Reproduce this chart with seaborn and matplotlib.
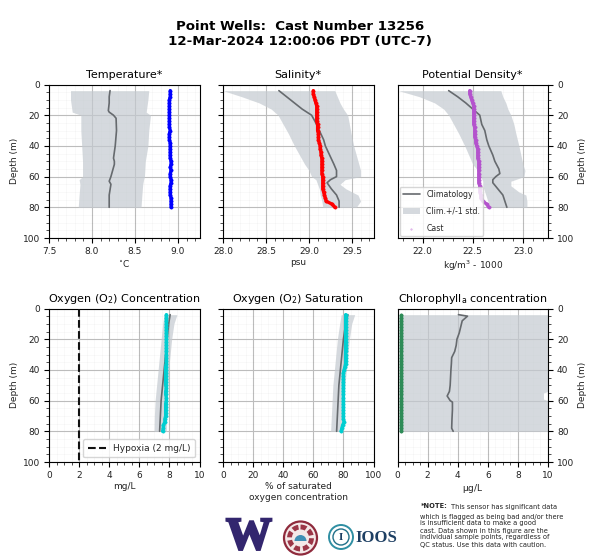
import matplotlib
matplotlib.use('Agg')
import matplotlib.pyplot as plt
import matplotlib.patheffects as pe
from matplotlib.patches import Circle, Wedge
from matplotlib.ticker import MultipleLocator
import seaborn as sns

sns.set_style('ticks')
plt.rcParams['font.family'] = ['DejaVu Sans']
plt.rcParams['mathtext.default'] = 'regular'

# depths for the cast markers, sampled every 2 m
cast_depth = [4, 6, 8, 10, 12, 14, 16, 18, 20, 22, 24, 26, 28, 30, 32, 34, 36, 38, 40, 42,
              44, 46, 48, 50, 52, 54, 56, 58, 60, 62, 64, 66, 68, 70, 72, 74, 76, 78, 80]

# temperature
temp_depth = [4, 8, 12, 17, 18, 20, 22, 30, 40, 48, 50, 52, 56, 60, 63, 65, 72, 80]
temp_clim = [8.21, 8.20, 8.20, 8.19, 8.20, 8.25, 8.28, 8.285, 8.27, 8.25, 8.26, 8.26, 8.24, 8.22, 8.20, 8.22, 8.20, 8.20]
temp_std_depth = [4, 10, 18, 20, 30, 40, 50, 60, 62, 65, 72, 80]
temp_low = [7.75, 7.75, 7.77, 7.87, 7.87, 7.88, 7.89, 7.89, 7.85, 7.86, 7.85, 7.84]
temp_high = [8.66, 8.65, 8.63, 8.68, 8.66, 8.65, 8.62, 8.61, 8.60, 8.59, 8.58, 8.57]
temp_cast = [8.91, 8.91, 8.91, 8.90, 8.90, 8.90, 8.90, 8.90, 8.90, 8.90, 8.90, 8.90, 8.90, 8.91, 8.90, 8.90,
             8.90, 8.91, 8.91, 8.91, 8.91, 8.91, 8.91, 8.92, 8.92, 8.91, 8.92, 8.91, 8.91, 8.92, 8.92, 8.91,
             8.91, 8.91, 8.91, 8.92, 8.92, 8.92, 8.92]

# salinity
sal_depth = [4, 8, 12, 16, 20, 24, 30, 36, 40, 46, 52, 56, 60, 62, 64, 68, 72, 76, 80]
sal_clim = [28.65, 28.74, 28.83, 28.92, 29.03, 29.07, 29.12, 29.17, 29.19, 29.24, 29.29, 29.32, 29.32, 29.25, 29.21, 29.26, 29.32, 29.35, 29.35]
sal_std_depth = [4, 8, 12, 16, 20, 26, 32, 40, 46, 52, 56, 60, 62, 65, 68, 72, 76, 80]
sal_low = [28.0, 28.22, 28.42, 28.56, 28.64, 28.70, 28.76, 28.83, 28.89, 28.95, 29.0, 29.03, 29.08, 29.10, 29.12, 29.13, 29.15, 29.16]
sal_high = [29.30, 29.33, 29.36, 29.40, 29.45, 29.47, 29.49, 29.52, 29.55, 29.58, 29.60, 29.60, 29.42, 29.36, 29.43, 29.57, 29.60, 29.55]
sal_cast = [29.05, 29.05, 29.06, 29.07, 29.08, 29.09, 29.09, 29.09, 29.09, 29.09, 29.09, 29.10, 29.10, 29.10, 29.11, 29.11,
            29.11, 29.12, 29.13, 29.13, 29.14, 29.14, 29.15, 29.15, 29.15, 29.15, 29.15, 29.15, 29.16, 29.16, 29.16, 29.16,
            29.16, 29.17, 29.18, 29.19, 29.20, 29.27, 29.30]

# potential density
dens_depth = [4, 8, 12, 16, 20, 26, 30, 36, 40, 46, 50, 55, 58, 60, 62, 64, 68, 72, 76, 80]
dens_clim = [22.26, 22.35, 22.43, 22.50, 22.57, 22.59, 22.62, 22.64, 22.66, 22.70, 22.72, 22.76, 22.77, 22.73, 22.70, 22.70, 22.75, 22.80, 22.82, 22.84]
dens_std_depth = [4, 8, 12, 16, 20, 26, 32, 40, 46, 52, 56, 60, 63, 66, 70, 72, 76, 80]
dens_low = [21.76, 21.97, 22.12, 22.21, 22.26, 22.31, 22.36, 22.42, 22.46, 22.5, 22.55, 22.58, 22.6, 22.6, 22.62, 22.63, 22.65, 22.68]
dens_high = [22.78, 22.80, 22.83, 22.85, 22.88, 22.91, 22.93, 22.96, 22.98, 23.0, 23.02, 23.01, 22.88, 22.88, 22.96, 23.03, 23.04, 23.04]
dens_cast = [22.47, 22.47, 22.48, 22.49, 22.50, 22.51, 22.51, 22.51, 22.51, 22.51, 22.51, 22.51, 22.52, 22.52, 22.52, 22.52,
             22.53, 22.53, 22.54, 22.55, 22.55, 22.55, 22.55, 22.56, 22.56, 22.56, 22.56, 22.56, 22.56, 22.56, 22.56, 22.57,
             22.57, 22.57, 22.58, 22.58, 22.60, 22.64, 22.66]

# oxygen concentration
oxy_depth = [4, 10, 20, 30, 40, 50, 60, 70, 80]
oxy_clim = [8.05, 7.95, 7.85, 7.75, 7.65, 7.55, 7.45, 7.40, 7.35]
oxy_low = [7.65, 7.55, 7.45, 7.35, 7.25, 7.15, 7.05, 7.0, 6.98]
oxy_high = [8.5, 8.3, 8.15, 8.05, 7.95, 7.9, 7.85, 7.8, 7.8]
oxy_cast = [7.8, 7.8, 7.8, 7.8, 7.8, 7.8, 7.8, 7.8, 7.8, 7.8, 7.8, 7.8, 7.8, 7.8, 7.8, 7.8,
            7.8, 7.75, 7.75, 7.75, 7.75, 7.75, 7.75, 7.75, 7.8, 7.75, 7.75, 7.8, 7.8, 7.75, 7.75, 7.75,
            7.75, 7.75, 7.7, 7.7, 7.6, 7.6, 7.55]

# oxygen saturation
sat_clim = [83, 81.5, 80, 79, 78, 77, 76.5, 76, 75.5]
sat_low = [78.5, 77.5, 76, 75, 74, 73, 72.5, 72, 71.5]
sat_high = [87.5, 85.5, 84, 83, 82, 81, 80.5, 80, 79.5]
sat_cast = [81.5, 81.5, 81.5, 81.5, 81.5, 81.5, 81.5, 81.5, 81.5, 81.5, 81.5, 81.5, 81.5, 81.5, 81.5, 81.5,
            81.5, 81, 80.5, 80, 80, 80, 80, 80, 80, 80, 80, 80, 80, 80, 80, 80,
            80, 80, 80, 80.5, 79.5, 79, 78.5]

# chlorophyll
chl_depth = [4, 5, 8, 12, 16, 20, 24, 28, 32, 36, 40, 50, 54, 57, 60, 61, 66, 72, 78, 80]
chl_clim = [4.05, 4.65, 4.3, 4.2, 4.1, 3.95, 3.9, 3.8, 3.6, 3.58, 3.55, 3.5, 3.45, 3.3, 3.5, 3.65, 3.65, 3.62, 3.6, 3.7]
chl_std_depth = [4, 54, 55, 59, 60, 80]
chl_low = [0, 0, 0, 0, 0, 0]
chl_high = [10, 10, 9.7, 9.7, 10, 10]
chl_cast = [0.2] * len(cast_depth)

hypoxia_x = [2, 2]
hypoxia_y = [0, 100]

titles = ['Temperature*', 'Salinity*', 'Potential Density*',
          'Oxygen (O$_2$) Concentration', 'Oxygen (O$_2$) Saturation', 'Chlorophyll$_a$ concentration']
xlabels = ['$^{\\circ}$C', 'psu', 'kg/m$^3$ - 1000', 'mg/L', '% of saturated\noxygen concentration', '$\\mu$g/L']
xlims = [(7.5, 9.25), (28, 29.75), (21.75, 23.25), (0, 10), (0, 100), (0, 10)]
majors = [0.5, 0.5, 0.5, 2, 20, 2]
minors = [0.1, 0.1, 0.1, 0.5, 5, 0.5]
colors = ['#0000ff', '#ff0000', '#b452cd', '#00ced1', '#00ced1', '#2e8b57']

W, H = 600, 560
boxes = [(49, 84.5), (223, 84.5), (397.5, 84.5), (49, 308.5), (223, 308.5), (397.5, 308.5)]
STD_COLOR = '#c4cad0'
CLIM_COLOR = '#666a6e'

profiles = [
    (temp_depth, temp_clim, temp_std_depth, temp_low, temp_high, temp_cast),
    (sal_depth, sal_clim, sal_std_depth, sal_low, sal_high, sal_cast),
    (dens_depth, dens_clim, dens_std_depth, dens_low, dens_high, dens_cast),
    (oxy_depth, oxy_clim, oxy_depth, oxy_low, oxy_high, oxy_cast),
    (oxy_depth, sat_clim, oxy_depth, sat_low, sat_high, sat_cast),
    (chl_depth, chl_clim, chl_std_depth, chl_low, chl_high, chl_cast),
]

fig = plt.figure(figsize=(6, 5.6), dpi=100, facecolor='white')
fig.text(0.5, 0.9518, 'Point Wells:  Cast Number 13256', ha='center', va='center', fontsize=9.6, fontweight='bold', color='black')
fig.text(0.5, 0.925, '12-Mar-2024 12:00:06 PDT (UTC-7)', ha='center', va='center', fontsize=9.6, fontweight='bold', color='black')

for i, (x0, y0) in enumerate(boxes):
    ax = fig.add_axes([x0 / W, 1 - (y0 + 153.5) / H, 150.5 / W, 153.5 / H])
    depth, clim, std_depth, low, high, cast = profiles[i]

    ax.fill_betweenx(std_depth, low, high, color=STD_COLOR, alpha=0.7, lw=0, label='Clim.+/-1 std.', zorder=1.5)
    sns.lineplot(x=clim, y=depth, sort=False, estimator=None, color=CLIM_COLOR, lw=1.2,
                 label='Climatology', legend=False, ax=ax, zorder=3)
    # thin line behind the points so the cast reads as a solid band
    sns.lineplot(x=cast, y=cast_depth, sort=False, estimator=None, color=colors[i], lw=2.4,
                 legend=False, ax=ax, zorder=3.5)
    sns.scatterplot(x=cast, y=cast_depth, color=colors[i], s=6, edgecolor=colors[i], linewidth=0.3,
                    label='Cast', legend=False, ax=ax, zorder=4)

    if i == 3:
        sns.lineplot(x=hypoxia_x, y=hypoxia_y, color='#111111', lw=1.5, ls='--', estimator=None,
                     sort=False, label='Hypoxia (2 mg/L)', legend=False, ax=ax, zorder=5)
        handles, labels = ax.get_legend_handles_labels()
        keep = [n for n, lab in enumerate(labels) if lab.startswith('Hypoxia')]
        ax.legend([handles[n] for n in keep], [labels[n] for n in keep], loc='lower right', fontsize=6.5,
                  borderpad=0.5, handlelength=2.0)
    if i == 2:
        handles, labels = ax.get_legend_handles_labels()
        order = [labels.index('Climatology'), labels.index('Clim.+/-1 std.'), labels.index('Cast')]
        leg = ax.legend([handles[n] for n in order], [labels[n] for n in order], loc='lower left', fontsize=5.6,
                        markerscale=0.5, borderpad=0.4, labelspacing=1.0, handlelength=2.2,
                        bbox_to_anchor=(0.0, 0.0), borderaxespad=0.3)
        leg.legend_handles[2].set_alpha(0.4)

    ax.set_xlim(*xlims[i])
    ax.set_ylim(100, 0)
    ax.xaxis.set_major_locator(MultipleLocator(majors[i]))
    ax.xaxis.set_minor_locator(MultipleLocator(minors[i]))
    ax.yaxis.set_major_locator(MultipleLocator(20))
    ax.yaxis.set_minor_locator(MultipleLocator(5))
    ax.grid(which='major', color='#bcbcbc', lw=0.8)
    # translucent so the minor lines do not cut the major ones into dashes
    ax.grid(which='minor', color='black', alpha=0.025, lw=0.8)
    ax.set_axisbelow(True)
    ax.tick_params(which='major', labelsize=6.5, length=3.5, width=0.8, color='black', labelcolor='#222222', pad=3)
    ax.tick_params(which='minor', length=2, width=0.6, color='#333333')
    for sp in ax.spines.values():
        sp.set_visible(True)
        sp.set_color('black')
        sp.set_linewidth(0.8)

    ax.set_title(titles[i], fontsize=8, color='black', pad=5)
    ax.set_xlabel(xlabels[i], fontsize=6.5, color='#222222', labelpad=1.5)
    if i % 3 == 0:
        ax.set_ylabel('Depth (m)', fontsize=6.5, color='#222222', labelpad=3)
    elif i % 3 == 2:
        ax.yaxis.tick_right()
        ax.yaxis.set_label_position('right')
        ax.set_ylabel('Depth (m)', fontsize=6.5, color='#222222', labelpad=3)
    else:
        ax.set_ylabel('')
        ax.tick_params(axis='y', labelleft=False)

# note at the bottom right
note_lines = [
    (451.5, 506.5, 'This sensor has significant data'),
    (420, 516.5, 'which is flagged as being bad and/or there'),
    (420, 522.5, 'is insufficient data to make a good'),
    (420, 531, 'cast. Data shown in this figure are the'),
    (420, 537, 'individual sample points, regardless of'),
    (420, 545, 'QC status. Use this data with caution.'),
]
fig.text(421 / W, 1 - 506.5 / H, '*NOTE:', fontsize=4.8, fontweight='bold', va='center', color='#222222')
for tx, ty, line in note_lines:
    fig.text(tx / W, 1 - ty / H, line, fontsize=4.8, va='center', color='#222222')

# logos, approximated with text and circles in pixel coordinates
logo = fig.add_axes([0, 0, 1, 1], zorder=10)
logo.set_xlim(0, W)
logo.set_ylim(H, 0)
logo.axis('off')
logo.patch.set_alpha(0)
logo.text(249, 538, 'W', fontsize=33, fontweight='bold', family='Liberation Serif', color='#33266e',
          ha='center', va='center', path_effects=[pe.withStroke(linewidth=1.8, foreground='#33266e', joinstyle='miter')])
logo.add_patch(Circle((300.5, 538), 16.5, fc='#f4e8e8', ec='#8f2a3c', lw=1.6))
logo.add_patch(Circle((300.5, 538), 11, fc='none', ec='#9c3647', lw=3.5, ls=(0, (1.2, 0.6))))
logo.add_patch(Wedge((300.5, 541), 6, 180, 360, fc='#3f8fb5', ec='none'))
logo.add_patch(Circle((341, 537), 12, fc='none', ec='#2f8fa3', lw=1.4))
logo.add_patch(Circle((341, 537), 8, fc='none', ec='#1f6f88', lw=1.0))
logo.text(341, 537.5, 'I', fontsize=8, fontweight='bold', family='Liberation Serif', color='#1d3f63',
          ha='center', va='center')
logo.text(376, 537.5, 'IOOS', fontsize=12, fontweight='bold', family='Liberation Serif', color='#1d3f63',
          ha='center', va='center')

fig.savefig('out.png', dpi=100)
